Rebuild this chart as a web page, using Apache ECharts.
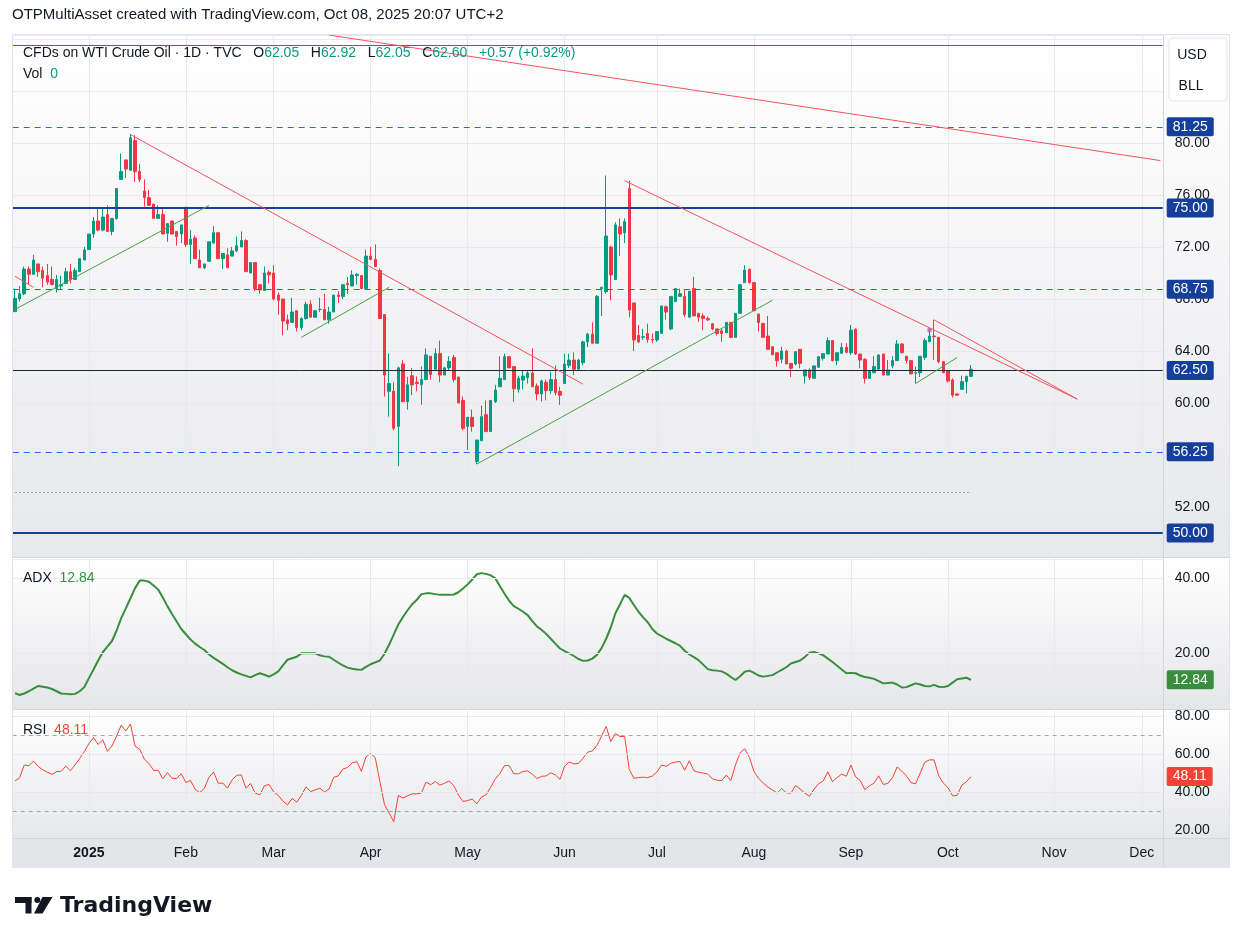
<!DOCTYPE html>
<html>
<head>
<meta charset="utf-8">
<title>CFDs on WTI Crude Oil · 1D · TVC</title>
<script src="https://cdn.jsdelivr.net/npm/echarts@6/dist/echarts.min.js"></script>
<style>
  html, body { margin: 0; padding: 0; background: #ffffff; }
  #chart-container { width: 1243px; height: 944px; }
</style>
</head>
<body>
<div id="chart-container"></div>
<script>
// daily bars, Dec 9 2024 .. Oct 8 2025
var opens = [
  67.03, 68.0, 68.4, 70.3, 69.9, 70.7, 70.2, 69.8, 69.5, 68.8,
  69.0, 69.2, 70.1, 69.5, 70.1, 71.0, 71.8, 73.0, 74.0, 73.3,
  74.5, 73.2, 74.2, 77.2, 78.7, 77.9, 80.2, 77.8, 76.3, 75.8,
  75.3, 74.2, 74.5, 73.05, 74.0, 73.2, 73.0, 75.05, 72.2, 72.7,
  71.0, 70.4, 70.9, 72.3, 73.1, 71.1, 71.4, 71.3, 71.7, 72.0,
  72.5, 70.0, 70.8, 69.1, 68.65, 70.05, 70.0, 68.3, 68.0, 66.4,
  66.2, 67.1, 65.8, 66.5, 67.6, 66.6, 67.2, 67.2, 66.4, 67.0,
  68.3, 68.2, 69.2, 69.0, 69.8, 69.8, 68.8, 71.3, 71.05, 70.2,
  66.8, 60.9, 60.9, 58.2, 63.0, 60.1, 62.1, 61.6, 61.4, 61.8,
  63.6, 62.6, 63.8, 62.15, 62.7, 63.5, 62.0, 60.2, 58.2, 58.9,
  55.5, 57.1, 59.1, 57.8, 60.1, 61.25, 61.8, 63.56, 62.8, 61.05,
  61.76, 61.95, 62.3, 61.3, 60.7, 61.6, 60.95, 61.8, 60.9, 61.5,
  62.9, 63.3, 62.6, 63.1, 64.7, 65.3, 64.6, 68.8, 68.56, 72.0,
  69.5, 73.56, 73.1, 76.5, 67.7, 65.2, 65.05, 65.35, 64.9, 64.85,
  65.36, 67.4, 65.7, 67.8, 68.2, 68.2, 66.6, 68.8, 66.9, 66.7,
  66.5, 66.1, 65.7, 65.55, 65.4, 66.2, 65.05, 66.9, 69.26, 70.28,
  69.26, 66.85, 66.13, 65.15, 64.33, 63.87, 63.36, 64.0, 63.05, 63.0,
  64.13, 62.08, 62.54, 61.9, 62.75, 63.44, 63.77, 64.8, 63.26, 63.82,
  64.28, 63.87, 65.67, 63.77, 63.36, 61.9, 62.33, 62.6, 63.77, 62.15,
  62.85, 63.26, 64.54, 63.6, 63.26, 62.3, 62.33, 63.5, 64.72, 65.15,
  65.05, 63.18, 62.5, 61.77, 60.7, 61.05, 61.64, 62.05
];
var closes = [
  68.05, 68.4, 70.3, 69.9, 71.0, 70.1, 69.6, 69.3, 69.1, 69.5,
  69.1, 70.1, 69.5, 70.2, 71.1, 71.77, 73.0, 74.0, 73.3, 74.3,
  73.2, 74.2, 76.5, 77.8, 78.0, 80.4, 77.8, 77.2, 75.8, 75.2,
  74.2, 74.5, 73.0, 73.8, 73.0, 72.8, 73.7, 72.2, 72.6, 71.1,
  70.4, 70.7, 72.4, 73.1, 71.1, 71.5, 70.4, 71.7, 72.1, 72.5,
  70.1, 70.8, 68.8, 68.7, 70.0, 69.85, 68.0, 67.9, 66.3, 66.1,
  67.0, 65.8, 66.5, 67.6, 66.6, 67.1, 67.2, 66.4, 67.0, 68.3,
  68.2, 69.1, 69.1, 69.85, 69.9, 68.8, 71.3, 71.05, 70.5, 66.5,
  62.15, 61.5, 58.06, 62.7, 60.1, 61.4, 61.4, 61.5, 61.8, 63.7,
  62.2, 63.8, 62.15, 62.7, 63.2, 61.8, 60.0, 58.05, 58.9, 58.2,
  57.15, 58.95, 57.8, 60.2, 61.0, 61.9, 63.56, 62.7, 61.1, 61.9,
  62.07, 62.3, 61.25, 60.7, 61.7, 60.95, 61.8, 60.8, 60.6, 63.0,
  63.3, 62.6, 63.3, 64.7, 65.3, 64.6, 68.2, 68.9, 72.85, 69.85,
  73.7, 73.0, 73.95, 67.15, 64.85, 64.7, 65.1, 64.9, 64.85, 65.5,
  67.46, 67.0, 68.2, 68.8, 68.4, 66.8, 68.6, 66.7, 66.6, 66.5,
  66.4, 65.7, 65.35, 65.35, 66.2, 65.05, 66.9, 69.1, 70.23, 69.26,
  67.1, 66.18, 65.05, 64.13, 63.7, 63.26, 64.0, 63.0, 62.67, 63.95,
  63.05, 62.54, 61.95, 62.85, 63.56, 63.8, 64.8, 63.26, 63.87, 64.28,
  63.9, 65.6, 63.77, 63.3, 61.9, 62.46, 62.8, 63.7, 62.15, 62.54,
  63.26, 64.54, 63.87, 63.26, 62.23, 62.33, 63.6, 64.8, 65.15, 65.1,
  63.18, 62.33, 61.7, 60.6, 60.6, 61.64, 62.05, 62.6
];
var lows = [
  67.0, 67.8, 68.3, 69.1, 69.9, 69.7, 68.9, 69.1, 69.1, 68.5,
  68.7, 69.2, 69.2, 69.5, 70.1, 71.0, 71.8, 72.7, 73.2, 73.2,
  73.2, 72.9, 74.1, 77.2, 77.3, 77.9, 77.0, 77.0, 75.1, 75.2,
  74.2, 74.2, 73.0, 72.4, 73.0, 72.1, 72.3, 72.0, 70.7, 71.1,
  70.4, 70.3, 70.9, 72.3, 71.1, 70.3, 70.4, 71.3, 71.6, 72.0,
  70.1, 70.0, 68.6, 68.4, 68.65, 69.2, 67.9, 66.8, 65.2, 65.6,
  66.2, 65.5, 65.6, 66.4, 66.6, 66.6, 67.0, 66.4, 66.1, 67.0,
  67.7, 68.0, 68.4, 69.0, 69.1, 68.8, 68.8, 71.0, 70.5, 66.5,
  60.5, 58.95, 57.9, 55.15, 60.1, 59.5, 60.6, 60.9, 59.85, 61.8,
  61.8, 62.6, 61.6, 62.15, 62.5, 61.6, 60.0, 57.9, 56.4, 57.8,
  55.3, 57.1, 57.8, 57.8, 60.0, 61.25, 61.8, 62.7, 60.1, 60.8,
  61.05, 61.5, 61.25, 60.2, 60.1, 60.2, 60.7, 60.6, 59.85, 61.5,
  62.7, 62.15, 62.6, 62.9, 64.3, 64.6, 64.6, 66.7, 68.4, 67.9,
  69.5, 71.3, 72.3, 66.6, 64.0, 64.6, 64.85, 64.65, 64.6, 64.7,
  65.36, 66.4, 65.6, 67.8, 68.2, 66.6, 66.6, 66.7, 66.25, 65.6,
  66.3, 65.6, 65.2, 64.7, 65.4, 65.05, 65.05, 66.9, 69.26, 69.2,
  67.1, 65.5, 65.05, 64.13, 63.7, 62.8, 63.05, 63.0, 62.0, 62.9,
  62.67, 61.5, 61.77, 61.9, 62.75, 63.26, 63.77, 63.2, 62.9, 63.82,
  63.82, 63.7, 63.7, 62.67, 61.5, 61.9, 62.28, 62.6, 62.15, 62.15,
  62.67, 63.26, 63.82, 63.05, 62.23, 61.5, 62.0, 63.3, 64.72, 63.3,
  63.05, 62.3, 61.57, 60.43, 60.56, 61.05, 60.75, 62.05
];
var highs = [
  68.8, 69.0, 70.5, 70.5, 71.4, 70.7, 70.5, 70.7, 70.5, 69.85,
  69.8, 70.4, 70.7, 70.4, 71.1, 72.0, 73.0, 74.3, 75.0, 75.0,
  75.2, 74.2, 76.5, 79.2, 78.7, 80.7, 80.6, 78.4, 77.2, 76.4,
  75.3, 75.2, 75.0, 73.8, 74.0, 73.2, 73.7, 75.05, 73.3, 72.9,
  71.8, 70.7, 72.4, 73.6, 73.1, 71.5, 71.9, 72.0, 72.8, 73.2,
  72.6, 70.8, 70.8, 69.1, 70.5, 70.2, 70.6, 68.5, 68.0, 66.8,
  68.1, 67.1, 66.6, 67.8, 67.9, 67.1, 68.1, 68.4, 67.4, 68.3,
  68.6, 69.1, 69.7, 70.2, 70.0, 69.8, 71.8, 72.0, 72.2, 70.35,
  66.8, 63.8, 61.6, 62.8, 63.3, 62.0, 62.7, 62.05, 62.8, 64.2,
  63.6, 64.2, 64.8, 62.8, 63.6, 63.7, 62.0, 60.5, 58.9, 59.5,
  57.15, 59.8, 60.2, 60.2, 61.4, 63.6, 63.8, 63.56, 62.8, 62.1,
  62.5, 62.5, 64.2, 61.5, 61.8, 61.8, 62.4, 62.9, 61.25, 63.8,
  63.8, 63.9, 63.4, 64.8, 65.4, 66.2, 68.3, 68.95, 77.5, 72.1,
  73.9, 74.2, 74.2, 77.1, 67.7, 66.0, 65.7, 66.1, 65.35, 65.5,
  67.5, 67.5, 68.2, 68.8, 68.8, 68.7, 68.6, 69.7, 66.9, 66.9,
  66.65, 66.1, 65.7, 65.75, 66.2, 66.2, 66.9, 69.1, 70.6, 70.36,
  69.3, 66.85, 66.13, 66.7, 64.33, 63.87, 64.33, 64.1, 63.05, 63.95,
  64.13, 62.54, 62.67, 62.9, 63.6, 63.8, 65.05, 64.8, 63.87, 64.64,
  64.6, 66.0, 65.75, 63.77, 63.44, 62.54, 63.6, 63.7, 63.77, 63.3,
  63.6, 64.85, 64.6, 63.6, 63.26, 62.8, 63.6, 64.98, 65.75, 66.4,
  65.05, 63.18, 62.5, 61.9, 60.7, 62.1, 62.1, 62.92
];
var adxValues = [
  9.3, 8.8, 9.2, 9.8, 10.5, 11.2, 11.0, 10.8, 10.4, 9.8,
  9.2, 9.1, 9.0, 9.1, 9.8, 10.9, 13.3, 15.6, 18.0, 20.2,
  21.7, 23.2, 26.0, 29.3, 31.9, 34.6, 37.3, 39.3, 39.3, 39.0,
  38.0, 36.9, 34.8, 32.5, 30.4, 28.4, 26.4, 25.0, 23.6, 22.5,
  21.6, 20.8, 19.6, 18.7, 17.9, 17.1, 16.2, 15.4, 14.8, 14.3,
  13.9, 13.5, 14.1, 14.6, 14.2, 13.7, 14.3, 15.1, 16.7, 18.2,
  18.6, 19.0, 19.9, 19.9, 19.9, 19.9, 19.4, 19.1, 19.0, 18.2,
  17.4, 16.7, 16.1, 15.8, 15.6, 15.5, 16.3, 17.0, 17.5, 18.0,
  19.8, 22.2, 24.9, 27.6, 29.6, 31.4, 33.0, 34.2, 35.7, 35.9,
  35.9, 35.7, 35.5, 35.5, 35.5, 35.6, 36.2, 37.2, 38.3, 39.6,
  41.0, 41.3, 41.1, 40.7, 39.9, 37.8, 35.8, 33.9, 32.5, 31.8,
  31.0, 30.1, 28.5, 27.1, 26.2, 25.1, 23.8, 22.5, 21.2, 20.5,
  19.9, 19.2, 18.4, 17.9, 18.0, 18.5, 19.5, 21.3, 23.8, 26.8,
  30.6, 33.0, 35.5, 34.7, 32.8, 31.0, 29.5, 28.2, 26.4, 25.2,
  24.5, 23.8, 23.2, 22.6, 21.9, 20.6, 19.6, 18.9, 18.1, 16.9,
  15.7, 15.4, 15.3, 15.1, 14.5, 13.6, 12.8, 13.8, 15.0, 15.3,
  14.7, 14.0, 13.7, 13.9, 14.1, 14.8, 15.5, 16.2, 17.2, 17.6,
  18.0, 18.9, 20.1, 20.3, 19.9, 19.4, 18.5, 17.6, 16.6, 15.6,
  14.6, 14.7, 14.6, 14.0, 13.6, 13.4, 13.1, 12.5, 11.9, 12.0,
  12.1, 11.6, 10.8, 10.9, 11.4, 11.9, 11.6, 11.2, 11.1, 11.5,
  11.0, 10.9, 11.2, 12.1, 13.0, 13.2, 13.4, 12.84
];
var rsiValues = [
  45.8, 47.5, 54.2, 53.8, 56.3, 53.5, 51.7, 50.4, 49.3, 50.7,
  50.9, 53.6, 51.2, 54.3, 57.6, 61.2, 65.5, 68.6, 65.0, 67.5,
  61.4, 64.2, 69.5, 75.2, 72.1, 75.8, 64.2, 62.5, 57.3, 55.1,
  51.4, 51.4, 46.9, 50.2, 47.2, 47.1, 49.6, 45.0, 46.1, 41.4,
  39.7, 41.9, 47.8, 50.5, 44.6, 44.7, 42.0, 46.3, 48.8, 49.0,
  42.0, 44.5, 39.4, 38.5, 43.2, 44.0, 40.1, 38.2, 35.2, 33.2,
  36.6, 34.7, 38.2, 42.7, 40.2, 41.1, 42.0, 40.0, 41.5, 47.7,
  48.5, 52.1, 52.9, 55.3, 56.0, 50.9, 58.5, 60.2, 58.1, 45.5,
  33.4, 28.9, 24.4, 38.2, 36.8, 38.0, 39.0, 39.0, 39.5, 45.2,
  43.8, 45.5, 43.6, 44.6, 45.8, 43.4, 38.5, 35.0, 35.5, 36.3,
  33.8, 37.4, 38.5, 42.5, 46.9, 49.8, 53.9, 53.9, 49.6, 49.6,
  50.8, 51.1, 49.4, 47.1, 48.2, 48.5, 50.1, 49.0, 46.6, 53.6,
  55.8, 54.8, 55.0, 57.8, 61.0, 61.6, 64.5, 69.4, 74.5, 66.5,
  70.8, 69.2, 69.2, 51.8, 47.2, 47.6, 47.8, 47.6, 48.4, 50.6,
  54.2, 53.5, 55.1, 55.8, 56.0, 51.5, 56.4, 51.2, 50.4, 50.0,
  49.4, 47.0, 46.2, 46.0, 48.9, 46.0, 54.3, 60.6, 62.8, 58.3,
  50.8, 47.2, 44.8, 42.6, 41.1, 39.4, 41.8, 39.6, 39.4, 43.4,
  41.5, 39.5, 37.7, 41.5, 44.4, 45.8, 50.6, 45.5, 47.6, 49.4,
  48.3, 54.2, 48.0, 46.1, 41.3, 43.2, 44.7, 48.5, 44.0, 44.5,
  47.5, 53.2, 51.0, 48.5, 44.9, 44.3, 50.0, 55.7, 56.9, 56.9,
  48.5, 44.7, 42.3, 38.0, 38.2, 43.6, 45.4, 48.11
];

// price levels drawn on the chart
var levelValues = [87.5, 81.25, 75, 68.75, 62.5, 56.25, 50];
var levelKinds  = ['thin', 'dashed', 'thick', 'dashed', 'dark', 'dashed', 'thick'];
var grayLevel = ['2024-12-09', '2025-10-08', 53.15];

// trend lines: [from date, from price, to date, to price]
var redLines = [
  ['2025-03-19', 88.3, '2025-12-05', 78.65],
  ['2025-01-15', 80.65, '2025-06-06', 61.45],
  ['2025-06-20', 77.1, '2025-11-10', 60.3],
  ['2025-09-26', 66.4, '2025-11-10', 60.3],
  ['2024-12-09', 69.75, '2024-12-13', 68.9]
];
var greenLines = [
  ['2024-12-09', 67.2, '2025-02-10', 75.2],
  ['2025-03-11', 65.05, '2025-04-07', 68.9],
  ['2025-05-05', 55.3, '2025-08-07', 67.9],
  ['2025-09-22', 61.5, '2025-10-03', 63.5]
];
var eventMarks = [['2025-09-25', 65.6]];

var priceTicks = [52, 56, 60, 64, 68, 72, 76, 80];
var adxTicks = [20, 40];
var rsiTicks = [20, 40, 60, 80];
var rsiBands = [70, 30];
var monthLabels = ['2025', 'Feb', 'Mar', 'Apr', 'May', 'Jun', 'Jul', 'Aug', 'Sep', 'Oct', 'Nov', 'Dec'];

// trading days (weekdays without the session holidays), through the empty space up to Dec 5
var holidays = ['2024-12-25', '2025-01-01', '2025-01-20', '2025-02-17', '2025-04-18', '2025-05-26',
                '2025-06-19', '2025-07-03', '2025-07-04', '2025-09-01', '2025-11-27'];
var dates = [];
var day = new Date(Date.UTC(2024, 11, 9));
while (day.toISOString().slice(0, 10) <= '2025-12-05') {
  var s = day.toISOString().slice(0, 10);
  if (day.getUTCDay() !== 0 && day.getUTCDay() !== 6 && holidays.indexOf(s) < 0) dates.push(s);
  day.setUTCDate(day.getUTCDate() + 1);
}
function isMonthStart(i) {
  return i > 0 && dates[i].slice(5, 7) !== dates[i - 1].slice(5, 7);
}

var FONT = '"Liberation Sans", Arial, sans-serif';
var TXT = '#131722';
var UP = '#089981', DOWN = '#f23645';
var BLUE = '#2962ff';
var BOX = '#163f9b';
var GRIDC = '#e7e9ee';

var candles = opens.map(function (o, i) { return [o, closes[i], lows[i], highs[i]]; });

function boxLabel(bg) {
  return {
    show: true, position: 'end', distance: 4,
    formatter: function (p) { return Number(p.value).toFixed(2); },
    color: '#ffffff', backgroundColor: bg, padding: [3, 6, 2, 6], borderRadius: 2,
    fontSize: 14, fontFamily: FONT, opacity: 1
  };
}

// level lines: each one gets its own complete style object
function levelItem(v, k) {
  var color = BLUE, width = 1.2, type = 'solid';
  if (k === 'dashed') type = [6, 5];
  if (k === 'thick') { width = 2; color = '#163f9b'; }
  if (k === 'dark') { color = '#1c2540'; width = 1; }
  return {
    name: 'level' + v,
    yAxis: v,
    lineStyle: { color: color, width: width, type: type, opacity: 1 },
    emphasis: { disabled: true },
    label: k === 'thin' ? { show: false } : boxLabel(BOX)
  };
}

var priceMarks = levelValues.map(function (v, i) { return levelItem(v, levelKinds[i]); });
priceMarks.push([
  { coord: [grayLevel[0], grayLevel[2]], lineStyle: { color: '#a3a6af', width: 1, type: [2, 2] }, label: { show: false } },
  { coord: [grayLevel[1], grayLevel[2]] }
]);
redLines.forEach(function (l) {
  priceMarks.push([
    { coord: [l[0], l[1]], lineStyle: { color: '#f7525f', width: 1, type: 'solid' }, label: { show: false } },
    { coord: [l[2], l[3]] }
  ]);
});
greenLines.forEach(function (l) {
  priceMarks.push([
    { coord: [l[0], l[1]], lineStyle: { color: '#4f9d4a', width: 1, type: 'solid' }, label: { show: false } },
    { coord: [l[2], l[3]] }
  ]);
});

function gridMarks(ticks, dashed, last, lastColor) {
  var out = ticks.map(function (v) {
    return { yAxis: v, lineStyle: { color: GRIDC, width: 1, type: 'solid' }, label: { show: false } };
  });
  dashed.forEach(function (v) {
    out.push({ yAxis: v, lineStyle: { color: '#a3a6af', width: 1, type: [4, 4] }, label: { show: false } });
  });
  // last value tag on the price scale, the line itself is invisible
  out.push({ yAxis: last, lineStyle: { color: 'rgba(0,0,0,0)', width: 1 }, label: boxLabel(lastColor) });
  return out;
}

function grad(top, bottom) {
  return new echarts.graphic.LinearGradient(0, 0, 0, 1, [
    { offset: 0, color: top }, { offset: 1, color: bottom }
  ]);
}

var hidden = { show: false };
var myChart = echarts.init(document.getElementById('chart-container'));

var option = {
  animation: false,
  backgroundColor: '#ffffff',
  textStyle: { fontFamily: FONT },
  grid: [
    { left: 12.7, top: 35, width: 1150, height: 524 },
    { left: 12.7, top: 558, width: 1150, height: 170 },
    { left: 12.7, top: 710, width: 1150, height: 158 },
    { left: 15, top: 35, width: 1145.26, height: 803 }
  ],
  xAxis: [
    { gridIndex: 0, type: 'category', data: dates, show: false },
    { gridIndex: 1, type: 'category', data: dates, show: false },
    { gridIndex: 2, type: 'category', data: dates, show: false },
    {
      gridIndex: 3, type: 'category', data: dates, boundaryGap: false,
      axisLine: hidden, axisTick: hidden,
      axisLabel: {
        margin: 8, color: TXT, fontSize: 14, fontFamily: FONT,
        interval: function (i) { return isMonthStart(i); },
        formatter: function (v) {
          var m = +v.slice(5, 7);
          return m === 1 ? '{y|' + monthLabels[0] + '}' : monthLabels[m - 1];
        },
        rich: { y: { fontWeight: 'bold', fontSize: 14, color: TXT, fontFamily: FONT } }
      },
      splitLine: { show: true, interval: function (i) { return isMonthStart(i); }, lineStyle: { color: GRIDC, width: 1 } }
    }
  ],
  yAxis: [
    {
      gridIndex: 0, type: 'value', position: 'right', min: 48, max: 88.3077, interval: 4,
      axisLine: hidden, axisTick: hidden,
      axisLabel: {
        margin: 12, color: TXT, fontSize: 14, fontFamily: FONT,
        formatter: function (v) { return priceTicks.indexOf(v) >= 0 ? v.toFixed(2) : ''; }
      },
      splitLine: { lineStyle: { color: GRIDC, width: 1 } }
    },
    {
      gridIndex: 1, type: 'value', position: 'right', min: 0, max: 45.333, interval: 20,
      axisLine: hidden, axisTick: hidden, splitLine: hidden,
      axisLabel: {
        margin: 12, color: TXT, fontSize: 14, fontFamily: FONT,
        formatter: function (v) { return adxTicks.indexOf(v) >= 0 ? v.toFixed(2) : ''; }
      }
    },
    {
      gridIndex: 2, type: 'value', position: 'right', min: 0, max: 83.158, interval: 20,
      axisLine: hidden, axisTick: hidden, splitLine: hidden,
      axisLabel: {
        margin: 12, color: TXT, fontSize: 14, fontFamily: FONT,
        formatter: function (v) { return rsiTicks.indexOf(v) >= 0 ? v.toFixed(2) : ''; }
      }
    },
    { gridIndex: 3, type: 'value', show: false }
  ],
  series: [
    {
      name: 'WTI', type: 'candlestick', xAxisIndex: 0, yAxisIndex: 0,
      data: candles, barWidth: 3, clip: false,
      itemStyle: { color: UP, color0: DOWN, borderColor: UP, borderColor0: DOWN, borderWidth: 1 },
      markLine: { silent: true, symbol: ['none', 'none'], animation: false, data: priceMarks }
    },
    {
      name: 'event', type: 'scatter', xAxisIndex: 0, yAxisIndex: 0,
      data: eventMarks, symbol: 'rect', symbolSize: 4, itemStyle: { color: '#b25bc7' }, silent: true
    },
    {
      name: 'ADX', type: 'line', xAxisIndex: 1, yAxisIndex: 1,
      data: adxValues, showSymbol: false, smooth: false, z: 3,
      lineStyle: { color: '#388e3c', width: 2 },
      markLine: { silent: true, symbol: ['none', 'none'], animation: false,
        data: gridMarks(adxTicks, [], adxValues[adxValues.length - 1], '#388e3c') }
    },
    {
      name: 'RSI', type: 'line', xAxisIndex: 2, yAxisIndex: 2,
      data: rsiValues, showSymbol: false, smooth: false, z: 3,
      lineStyle: { color: '#f44336', width: 1 },
      markLine: { silent: true, symbol: ['none', 'none'], animation: false,
        data: gridMarks(rsiTicks, rsiBands, rsiValues[rsiValues.length - 1], '#f44336') }
    }
  ],
  graphic: [
    // pane backgrounds
    { type: 'rect', z: -10, shape: { x: 12, y: 35, width: 1218, height: 522 }, style: { fill: grad('#ffffff', '#e7e8eb') } },
    { type: 'rect', z: -10, shape: { x: 12, y: 558, width: 1218, height: 151 }, style: { fill: grad('#ffffff', '#e5e6e9') } },
    { type: 'rect', z: -10, shape: { x: 12, y: 710, width: 1218, height: 128 }, style: { fill: grad('#ffffff', '#e6e7ea') } },
    { type: 'rect', z: -10, shape: { x: 12, y: 838, width: 1218, height: 30 }, style: { fill: '#e4e5e8' } },
    // separators and frame
    { type: 'line', z: 50, shape: { x1: 12, y1: 557.5, x2: 1230, y2: 557.5 }, style: { stroke: '#d3d5db', lineWidth: 1 } },
    { type: 'line', z: 50, shape: { x1: 12, y1: 709.5, x2: 1230, y2: 709.5 }, style: { stroke: '#d3d5db', lineWidth: 1 } },
    { type: 'line', z: 50, shape: { x1: 12, y1: 838.5, x2: 1230, y2: 838.5 }, style: { stroke: '#d3d5db', lineWidth: 1 } },
    { type: 'line', z: 50, shape: { x1: 1163.5, y1: 35, x2: 1163.5, y2: 868 }, style: { stroke: '#d3d5db', lineWidth: 1 } },
    { type: 'rect', z: 50, shape: { x: 12.5, y: 34.5, width: 1217, height: 833 }, style: { fill: 'none', stroke: '#e0e3eb', lineWidth: 1 } },
    // currency / unit box
    { type: 'rect', z: 60, shape: { x: 1169, y: 38, width: 58, height: 63, r: 4 }, style: { fill: '#ffffff', stroke: '#e3e5ea', lineWidth: 1 } },
    { type: 'text', z: 61, x: 1192, y: 55, style: { text: 'USD', fill: TXT, fontSize: 14, fontFamily: FONT, align: 'center', verticalAlign: 'middle' } },
    { type: 'text', z: 61, x: 1191, y: 86, style: { text: 'BLL', fill: TXT, fontSize: 14, fontFamily: FONT, align: 'center', verticalAlign: 'middle' } },
    // header and legends
    { type: 'text', z: 100, x: 12, y: 15, style: { text: 'OTPMultiAsset created with TradingView.com, Oct 08, 2025 20:07 UTC+2', fill: TXT, fontSize: 15, fontFamily: FONT, verticalAlign: 'middle' } },
    { type: 'text', z: 100, x: 23, y: 53, style: {
        text: '{k|CFDs on WTI Crude Oil · 1D · TVC   O}{v|62.05}{k|   H}{v|62.92}{k|   L}{v|62.05}{k|   C}{v|62.60}{v|   +0.57 (+0.92%)}',
        fontSize: 14, fontFamily: FONT, verticalAlign: 'middle',
        rich: { k: { fill: TXT, fontSize: 14, fontFamily: FONT }, v: { fill: UP, fontSize: 14, fontFamily: FONT } } } },
    { type: 'text', z: 100, x: 23, y: 74, style: {
        text: '{k|Vol  }{v|0}', fontSize: 14, fontFamily: FONT, verticalAlign: 'middle',
        rich: { k: { fill: TXT, fontSize: 14, fontFamily: FONT }, v: { fill: UP, fontSize: 14, fontFamily: FONT } } } },
    { type: 'text', z: 100, x: 23, y: 578, style: {
        text: '{k|ADX  }{v|12.84}', fontSize: 14, fontFamily: FONT, verticalAlign: 'middle',
        rich: { k: { fill: TXT, fontSize: 14, fontFamily: FONT }, v: { fill: '#388e3c', fontSize: 14, fontFamily: FONT } } } },
    { type: 'text', z: 100, x: 23, y: 730, style: {
        text: '{k|RSI  }{v|48.11}', fontSize: 14, fontFamily: FONT, verticalAlign: 'middle',
        rich: { k: { fill: TXT, fontSize: 14, fontFamily: FONT }, v: { fill: '#f44336', fontSize: 14, fontFamily: FONT } } } },
    // TradingView logo
    { type: 'rect', z: 100, shape: { x: 15, y: 897, width: 16.5, height: 6 }, style: { fill: TXT } },
    { type: 'rect', z: 100, shape: { x: 25.5, y: 897, width: 6, height: 16.5 }, style: { fill: TXT } },
    { type: 'circle', z: 100, shape: { cx: 37.3, cy: 900, r: 3 }, style: { fill: TXT } },
    { type: 'polygon', z: 100, shape: { points: [[42.5, 897], [52.5, 897], [42.5, 913.5], [34, 913.5]] }, style: { fill: TXT } },
    { type: 'text', z: 100, x: 60, y: 906, style: { text: 'TradingView', fill: TXT, fontSize: 22, fontWeight: 'bold', fontFamily: '"DejaVu Sans", sans-serif', verticalAlign: 'middle' } }
  ]
};

myChart.setOption(option);
</script>
</body>
</html>
